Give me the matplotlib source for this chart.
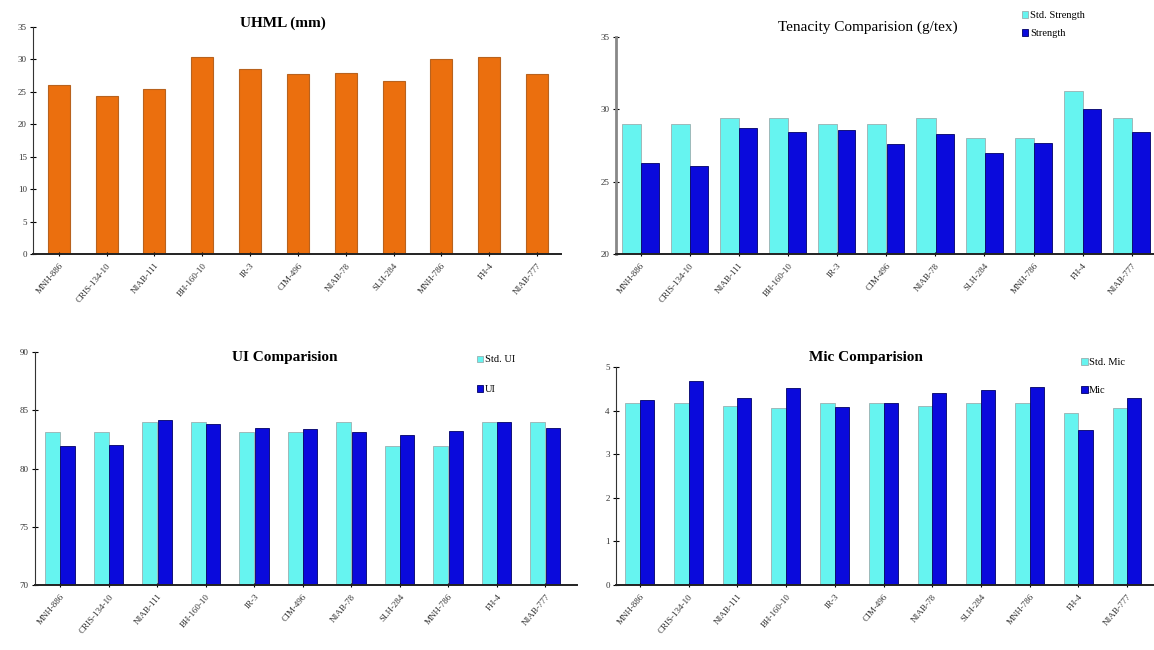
import numpy as np
import matplotlib
matplotlib.use("Agg")
import matplotlib.pyplot as plt

plt.rcParams['font.family'] = ['Liberation Serif', 'DejaVu Serif']

varieties = ["MNH-886", "CRIS-134-10", "NIAB-111", "BH-160-10", "IR-3", "CIM-496",
             "NIAB-78", "SLH-284", "MNH-786", "FH-4", "NIAB-777"]

uhml = [26.0, 24.3, 25.4, 30.4, 28.5, 27.7, 27.9, 26.7, 30.1, 30.4, 27.7]

std_strength = [29.0, 29.0, 29.4, 29.4, 29.0, 29.0, 29.4, 28.0, 28.0, 31.3, 29.4]
strength = [26.3, 26.1, 28.7, 28.4, 28.6, 27.6, 28.3, 27.0, 27.7, 30.0, 28.4]

std_ui = [83.1, 83.1, 84.0, 84.0, 83.1, 83.1, 84.0, 81.9, 81.9, 84.0, 84.0]
ui = [81.9, 82.0, 84.2, 83.8, 83.5, 83.4, 83.1, 82.9, 83.2, 84.0, 83.5]

std_mic = [4.18, 4.18, 4.11, 4.06, 4.18, 4.18, 4.11, 4.18, 4.18, 3.95, 4.06]
mic = [4.24, 4.69, 4.29, 4.52, 4.08, 4.18, 4.41, 4.47, 4.54, 3.55, 4.29]

W, H = 1154, 650
fig = plt.figure(figsize=(W / 100, H / 100), dpi=100)


def axes_px(left, right, top, bottom):
    return fig.add_axes([left / W, 1 - bottom / H, (right - left) / W, (bottom - top) / H])


def title_px(x, y, text, bold=True, size=11):
    fig.text(x / W, 1 - y / H, text, ha='center', va='center', fontsize=size,
             fontweight='bold' if bold else 'normal')


def style(ax, ticks, xlim):
    ax.spines['top'].set_visible(False)
    ax.spines['right'].set_visible(False)
    ax.spines['left'].set_color('#333333')
    ax.spines['bottom'].set_color('#222222')
    ax.spines['bottom'].set_linewidth(1.4)
    ax.set_yticks(ticks)
    ax.set_ylim(ticks[0], ticks[-1])
    ax.set_xlim(*xlim)
    ax.set_xticks(np.arange(len(varieties)))
    ax.set_xticklabels(varieties, rotation=50, ha='right', rotation_mode='anchor',
                       fontsize=6.5, color='#333333')
    ax.tick_params(axis='y', direction='inout', length=5, labelsize=6.5, pad=2,
                   labelcolor='#333333')
    ax.tick_params(axis='x', direction='inout', length=3, pad=4)


def legend(ax, anchor, spacing):
    ax.legend(loc='upper left', bbox_to_anchor=anchor, frameon=False, fontsize=7.5,
              handlelength=0.6, handleheight=0.6, handletextpad=0.15, labelspacing=spacing,
              borderpad=0, borderaxespad=0)


x = np.arange(len(varieties))
cyan = '#66F4F0'
blue = '#0A0ADC'

# UHML
ax1 = axes_px(33, 561, 27, 254)
ax1.bar(x, uhml, width=0.46, color='#EB6F0E', edgecolor='#B8621E', linewidth=0.8)
style(ax1, [0, 5, 10, 15, 20, 25, 30, 35], (-0.54, 10.5))
title_px(283, 23, "UHML (mm)")

# Tenacity
ax2 = axes_px(616, 1154, 37, 254)
ax2.bar(x - 0.19, std_strength, width=0.39, color=cyan, edgecolor='#9AB0B0', linewidth=0.6,
        label="Std. Strength")
ax2.bar(x + 0.19, strength, width=0.36, color=blue, edgecolor='#000066', linewidth=0.6,
        label="Strength")
style(ax2, [20, 25, 30, 35], (-0.5, 10.45))
ax2.spines['left'].set_color('#888888')
ax2.spines['left'].set_linewidth(2)
title_px(868, 27, "Tenacity Comparision (g/tex)", bold=False, size=11)
legend(ax2, (0.755, 1.12), 0.9)

# UI
ax3 = axes_px(35, 577, 352, 585)
ax3.bar(x - 0.155, std_ui, width=0.31, color=cyan, edgecolor='#9AB0B0', linewidth=0.6,
        label="Std. UI")
ax3.bar(x + 0.15, ui, width=0.29, color=blue, edgecolor='#000066', linewidth=0.6, label="UI")
style(ax3, [70, 75, 80, 85, 90], (-0.52, 10.65))
title_px(285, 357, "UI Comparision")
legend(ax3, (0.815, 0.985), 2.0)

# Micronaire
ax4 = axes_px(616, 1154, 367, 585)
ax4.bar(x - 0.15, std_mic, width=0.3, color=cyan, edgecolor='#9AB0B0', linewidth=0.6,
        label="Std. Mic")
ax4.bar(x + 0.145, mic, width=0.29, color=blue, edgecolor='#000066', linewidth=0.6, label="Mic")
style(ax4, [0, 1, 2, 3, 4, 5], (-0.49, 10.55))
title_px(866, 357, "Mic Comparision")
legend(ax4, (0.865, 1.04), 1.8)

fig.savefig("out.png", dpi=100)
